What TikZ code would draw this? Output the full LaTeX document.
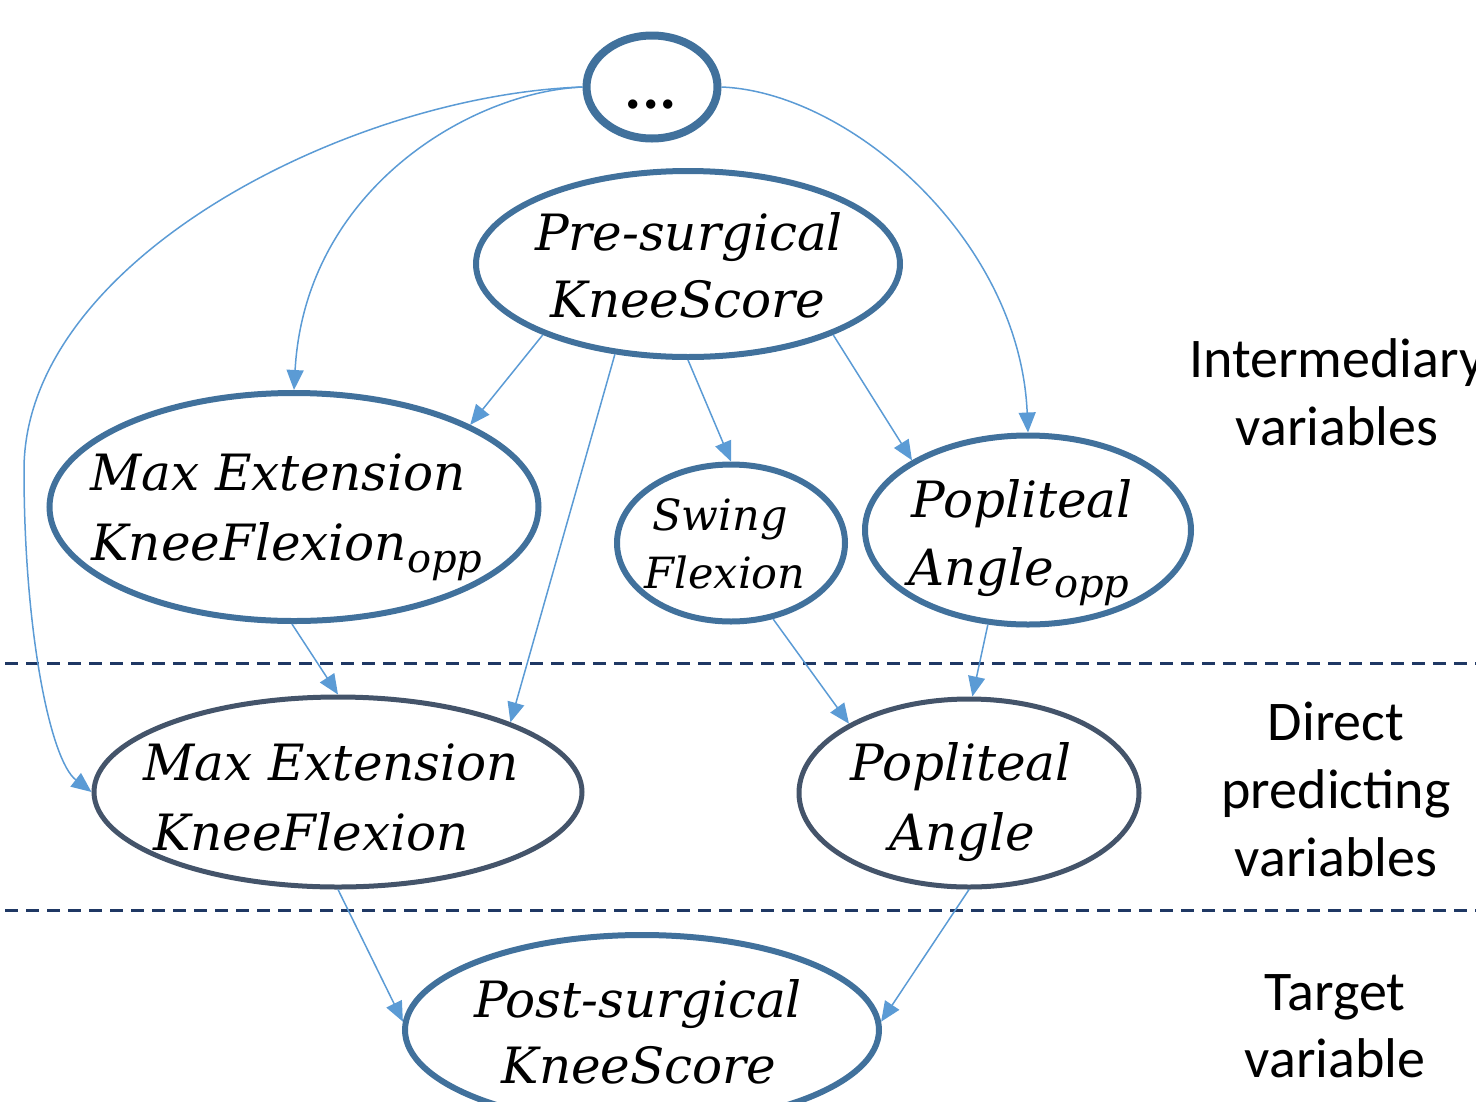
\documentclass[tikz,border=0pt]{standalone}
\usepackage{fontspec}
\usetikzlibrary{shapes.geometric,arrows.meta}
\newfontfamily\ellfont{DejaVu Serif}
\newfontfamily\labfont{Carlito}
\definecolor{nodeblue}{HTML}{41719C}
\definecolor{nodedark}{HTML}{44546A}
\definecolor{arrowblue}{HTML}{5B9BD5}
\definecolor{dashnavy}{HTML}{1F3864}
\newcommand{\subopp}{\raisebox{-12pt}{\fontsize{40}{40}\selectfont opp}}
\begin{document}
\begin{tikzpicture}[x=1pt,y=-1pt,
  ell/.style={ellipse, draw=nodeblue, line width=6pt, inner sep=0pt},
  elldark/.style={ell, draw=nodedark, line width=5pt},
  tx/.style={anchor=base, inner sep=0pt, font=\ellfont\itshape\fontsize{50}{60}\selectfont},
  stx/.style={anchor=base, inner sep=0pt, font=\ellfont\itshape\fontsize{43}{52}\selectfont},
  lab/.style={anchor=base, inner sep=0pt, font=\labfont\fontsize{56}{66}\selectfont},
  arr/.style={draw=arrowblue, line width=1.5pt, -{Triangle[length=20pt,width=17pt]}},
  dsh/.style={draw=dashnavy, line width=3pt, dash pattern=on 13pt off 8pt}]
\useasboundingbox (0,0) rectangle (1476,1101);

% separators
\coordinate (d1a) at (5,663);
\coordinate (d1b) at (1476,663);
\coordinate (d2a) at (5,910);
\coordinate (d2b) at (1476,910);
\draw[dsh] (d1a) -- (d1b);
\draw[dsh] (d2a) -- (d2b);

% ellipses
\node[ell, line width=8pt, minimum width=131pt, minimum height=103pt] (dots) at (652,87) {};
\node[ell, minimum width=424pt, minimum height=186pt] (pre) at (688,264) {};
\node[ell, minimum width=489pt, minimum height=228pt] (mopp) at (294,507) {};
\node[ell, minimum width=228pt, minimum height=157pt] (swing) at (731,543) {};
\node[ell, minimum width=326pt, minimum height=189pt] (popp) at (1028,530) {};
\node[elldark, minimum width=488pt, minimum height=190pt] (mdir) at (338,792) {};
\node[elldark, minimum width=340pt, minimum height=188pt] (pdir) at (969,793) {};
\node[ell, minimum width=474pt, minimum height=190pt] (post) at (642,1030) {};

% texts
\node[tx, font=\ellfont\bfseries\fontsize{50}{60}\selectfont] (dotsT) at (651,108) {...};
\node[tx] (preT1) at (689,250) {Pre-surgical};
\node[tx] (preT2) at (688,317) {KneeScore};
\node[tx] (moppT1) at (278,490) {Max Extension};
\node[tx] (moppT2) at (287,560) {KneeFlexion\subopp};
\node[stx] (swingT1) at (720,530) {Swing};
\node[stx] (swingT2) at (725,588) {Flexion};
\node[tx] (poppT1) at (1022,517) {Popliteal};
\node[tx] (poppT2) at (1019,585) {Angle\subopp};
\node[tx] (mdirT1) at (331,780) {Max Extension};
\node[tx] (mdirT2) at (311,850) {KneeFlexion};
\node[tx] (pdirT1) at (961,780) {Popliteal};
\node[tx] (pdirT2) at (962,850) {Angle};
\node[tx] (postT1) at (638,1017) {Post-surgical};
\node[tx] (postT2) at (639,1083) {KneeScore};

% side labels
\node[lab] (l1) at (1337,377) {Intermediary};
\node[lab] (l2) at (1337,445) {variables};
\node[lab] (l3) at (1336,740) {Direct};
\node[lab] (l4) at (1336,808) {predicting};
\node[lab] (l5) at (1336,876) {variables};
\node[lab] (l6) at (1335,1010) {Target};
\node[lab] (l7) at (1335,1077) {variable};

% curved arrows from the top node
\coordinate (bend) at (24,470);
\draw[arr] (dots.west) .. controls (350,95) and (24,260) .. (bend)
  .. controls (24,630) and (50,760) .. (mdir.west);
\draw[arr] (dots.west) .. controls (470,92) and (305,190) .. (mopp.north);
\draw[arr] (dots.east) .. controls (850,92) and (1020,240) .. (popp.north);

% straight arrows
\draw[arr] (pre.206) -- (mopp.25);
\draw[arr] (pre.231) -- (mdir.22);
\draw[arr] (pre.270) -- (swing.90);
\draw[arr] (pre.334) -- (popp.149);
\draw[arr] (mopp.269) -- (mdir.90);
\draw[arr] (swing.299) -- (pdir.150);
\draw[arr] (popp.247) -- (pdir.88);
\draw[arr] (mdir.270) -- (post.178);
\draw[arr] (pdir.270) -- (post.2);
\end{tikzpicture}
\end{document}
